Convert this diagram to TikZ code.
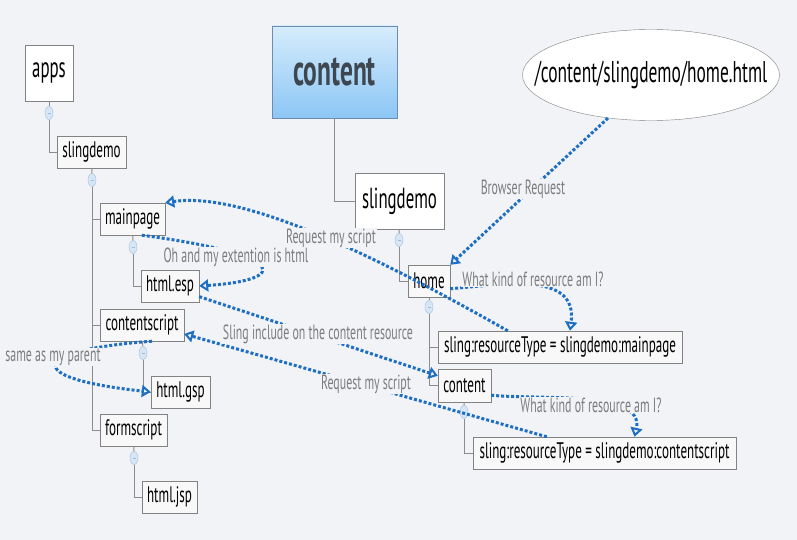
\documentclass[tikz,border=0pt]{standalone}
\usepackage{fontspec}
\setmainfont{PT Sans}[FakeStretch=0.58]
\usepackage{tikz}
\usetikzlibrary{arrows.meta, shapes.geometric}
\definecolor{bgcol}{RGB}{241,243,247}
\definecolor{boxfill}{RGB}{248,248,248}
\definecolor{boxline}{RGB}{130,130,130}
\definecolor{rootline}{RGB}{110,140,175}
\definecolor{roottop}{RGB}{214,236,252}
\definecolor{rootbottom}{RGB}{140,198,245}
\definecolor{roottext}{RGB}{62,70,80}
\definecolor{foldfill}{RGB}{215,230,245}
\definecolor{foldline}{RGB}{160,190,220}
\definecolor{flowblue}{RGB}{30,110,195}
\definecolor{notegray}{RGB}{125,125,125}
\definecolor{branchgray}{RGB}{140,140,140}

\begin{document}
\begin{tikzpicture}[x=1pt, y=-1pt,
  item/.style={draw=boxline, fill=boxfill, minimum height=32pt, inner sep=0pt, font=\fontsize{22.5}{24}\selectfont},
  bigitem/.style={item, fill=white, font=\fontsize{29}{31}\selectfont},
  root/.style={draw=rootline, top color=roottop, bottom color=rootbottom, text=roottext, inner sep=0pt, font=\fontsize{44}{46}\selectfont\bfseries},
  url/.style={ellipse, draw=boxline, fill=white, inner xsep=-30pt, inner ysep=0pt, font=\fontsize{30}{32}\selectfont},
  fold/.style={ellipse, draw=foldline, fill=foldfill, minimum width=8pt, minimum height=13pt, inner sep=0pt, text=foldline},
  branch/.style={draw=branchgray, line width=0.9pt},
  flow/.style={draw=flowblue, line width=3pt, dash pattern=on 3pt off 2pt, -{Triangle[open,length=9pt,width=12pt,line width=2pt]}},
  note/.style={fill=bgcol, text=notegray, inner sep=1pt, font=\fontsize{20.5}{22}\selectfont}]

  % Background
  \fill[bgcol] (0,0) rectangle (797,540);
  \useasboundingbox (0,0) rectangle (797,540);

  % apps tree
  \node[bigitem, minimum width=48pt, minimum height=56pt] (apps) at (49,73) {apps};
  \node[item, minimum width=69pt] (lsling) at (91.5,152) {slingdemo};
  \node[item, minimum width=65pt] (mainpage) at (132.5,219) {mainpage};
  \node[item, minimum width=58pt] (htmlesp) at (170,286) {html.esp};
  \node[item, minimum width=84pt] (cscript) at (142,325) {contentscript};
  \node[item, minimum width=59pt] (htmlgsp) at (180.5,392) {html.gsp};
  \node[item, minimum width=67pt] (fscript) at (133.5,430) {formscript};
  \node[item, minimum width=55pt] (htmljsp) at (169.5,497) {html.jsp};

  % content tree
  \node[root, minimum width=125pt, minimum height=92pt] (root) at (334.5,72) {content};
  \node[bigitem, minimum width=89pt, minimum height=56pt] (rsling) at (399.5,201) {slingdemo};
  \node[item, minimum width=42pt] (home) at (429,281) {home};
  \node[item, minimum width=244pt] (srtmain) at (560,347) {sling:resourceType = slingdemo:mainpage};
  \node[item, minimum width=53pt, minimum height=33pt] (ccontent) at (464.5,385.5) {content};
  \node[item, minimum width=263pt] (srtcs) at (604.5,453) {sling:resourceType = slingdemo:contentscript};

  % Request
  \node[url, minimum width=257pt, minimum height=91pt] (url) at (651,75) {/content/slingdemo/home.html};

  % Fold markers
  \node[fold] (fapps) at (49,113) {\rule{3pt}{0.6pt}};
  \node[fold] (flsling) at (92,180) {\rule{3pt}{0.6pt}};
  \node[fold] (fmain) at (133,247) {\rule{3pt}{0.6pt}};
  \node[fold] (fcs) at (143,353) {\rule{3pt}{0.6pt}};
  \node[fold] (ffs) at (134,458) {\rule{3pt}{0.6pt}};
  \node[fold] (frsling) at (399,240) {\rule{3pt}{0.6pt}};
  \node[fold] (fhome) at (429,307) {\rule{3pt}{0.6pt}};
  \node[fold] (fccontent) at (464,412) {\rule{3pt}{0.6pt}};

  % Branches
  \draw[branch] (apps) -- (fapps);
  \draw[branch] (fapps) |- (lsling);
  \draw[branch] (lsling) -- (flsling);
  \foreach \c in {mainpage, cscript, fscript}
    \draw[branch] (flsling) |- (\c);
  \draw[branch] (mainpage) -- (fmain);
  \draw[branch] (fmain) |- (htmlesp);
  \draw[branch] (cscript) -- (fcs);
  \draw[branch] (fcs) |- (htmlgsp);
  \draw[branch] (fscript) -- (ffs);
  \draw[branch] (ffs) |- (htmljsp);
  \draw[branch] (root) |- (rsling);
  \draw[branch] (rsling) -- (frsling);
  \draw[branch] (frsling) |- (home);
  \draw[branch] (home) -- (fhome);
  \draw[branch] (fhome) |- (srtmain);
  \draw[branch] (fhome) |- (ccontent);
  \draw[branch] (ccontent) -- (fccontent);
  \draw[branch] (fccontent) |- (srtcs);

  % Flow arrows
  \draw[flow] (url.225) -- (home.north east);
  \draw[flow] ([xshift=70pt]srtmain.north west) .. controls (400,270) and (250,190) .. (mainpage.north east);
  \draw[flow] (mainpage.-60) .. controls (290,255) and (290,280) .. (htmlesp.east);
  \draw[flow] (home.-20) .. controls (500,285) and (578,270) .. ([xshift=10pt]srtmain.north);
  \draw[flow] (htmlesp.-20) -- (ccontent.160);
  \draw[flow] ([xshift=74pt]srtcs.north west) -- (cscript.-12);
  \draw[flow] (ccontent.-20) .. controls (540,400) and (645,390) .. ([xshift=30pt]srtcs.north);
  \draw[flow] ([xshift=10pt]cscript.south) .. controls (30,350) and (20,378) .. (htmlgsp.west);

  % Notes
  \node[note] (nbrowser) at (523,189) {Browser Request};
  \node[note] (nreq1) at (331,238) {Request my script};
  \node[note] (next) at (236,257) {Oh and my extention is html};
  \node[note] (nkind1) at (533,279) {What kind of resource am I?};
  \node[note] (ninclude) at (318,334) {Sling include on the content resource};
  \node[note] (nreq2) at (366,384) {Request my script};
  \node[note] (nkind2) at (591,405) {What kind of resource am I?};
  \node[note] (nparent) at (53,357) {same as my parent};
\end{tikzpicture}
\end{document}
